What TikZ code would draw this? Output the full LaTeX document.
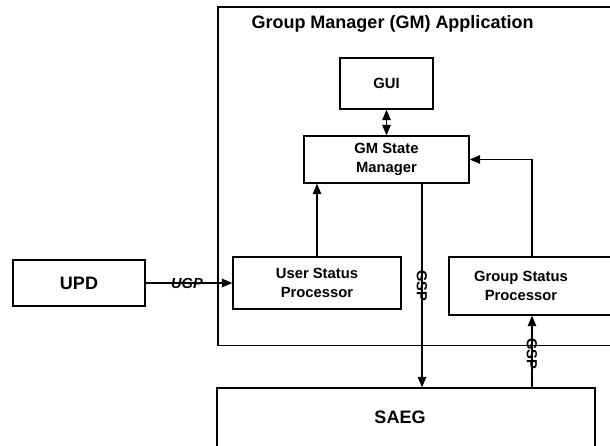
\documentclass[tikz,border=0pt]{standalone}
\usepackage{fontspec}
\setmainfont{Liberation Sans}
\usetikzlibrary{arrows.meta}
\begin{document}
\begin{tikzpicture}[x=1pt, y=-1pt, line width=1.3pt,
  box/.style={draw, line width=1.3pt, inner sep=0pt, align=center,
    font=\fontsize{14.8}{19.5}\selectfont\bfseries},
  bigbox/.style={box, font=\fontsize{18}{22}\selectfont\bfseries},
  boxtext/.style={align=center, font=\fontsize{14.8}{19.5}\selectfont\bfseries},
  bigtext/.style={font=\fontsize{18}{22}\selectfont\bfseries},
  flowlabel/.style={inner sep=0pt, font=\fontsize{14.6}{17}\selectfont\bfseries},
  tip/.style={-{Triangle[length=10.5pt,width=8.5pt]}},
  dtip/.style={{Triangle[length=10.5pt,width=8.5pt]}-{Triangle[length=10.5pt,width=8.5pt]}}
]
\useasboundingbox (0,0) rectangle (610,446);

% application frame (runs past the right edge)
\node[draw, line width=1.3pt, minimum width=430pt, minimum height=338.5pt, inner sep=0pt]
  (gmapp) at (433,176.25) {};
\node[bigtext] (title) at (392.5,23.5) {Group Manager (GM) Application};

% component boxes
\node[box, minimum width=93pt, minimum height=51pt] (gui) at (386.5,83.5) {GUI};
\node[box, minimum width=165pt, minimum height=47pt] (gmsm) at (386.5,159.5) {GM State\\Manager};
\node[box, minimum width=168pt, minimum height=52pt] (usp) at (317,283) {User Status\\Processor};
\node[draw, line width=1.3pt, minimum width=180pt, minimum height=58pt, inner sep=0pt,
  label={[boxtext, xshift=-18pt]center:Group Status\\Processor}] (grsp) at (539,286) {};
\node[bigbox, minimum width=132pt, minimum height=46pt] (upd) at (79,283) {UPD};
\node[draw, line width=1.3pt, minimum width=378pt, minimum height=70pt, inner sep=0pt,
  label={[bigtext, xshift=-6pt, yshift=6pt]center:SAEG}] (saeg) at (406,423) {};

% vertical tracks of the GSP flows
\coordinate (down) at (422,0);
\coordinate (up) at (532,0);

% connectors
\draw[tip] (upd) -- (usp) node[flowlabel, midway, xshift=-2pt] {\itshape UGP};
\draw[dtip] (gui) -- (gmsm);
\draw[tip] (usp.north) -- (usp.north |- gmsm.south);
\draw[tip] (gmsm.south -| down) -- (saeg.north -| down)
  node[flowlabel, midway, rotate=-90] {GSP};
\draw[tip] (grsp.north -| up) |- (gmsm.east);
\draw[tip] (saeg.north -| up) -- (grsp.south -| up)
  node[flowlabel, midway, rotate=-90, xshift=2pt] {GSP};
\end{tikzpicture}
\end{document}
